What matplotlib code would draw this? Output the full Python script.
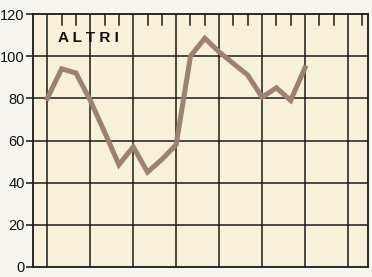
import matplotlib
matplotlib.use("Agg")
import matplotlib.pyplot as plt
import numpy as np

plt.rcParams['font.family'] = ['Liberation Sans', 'DejaVu Sans']

values = [80, 94, 92, 79, 64, 48.5, 57, 45, 51, 58, 100, 108.5, 102, 96.5, 91, 80.5, 85, 79, 94.5]
y_ticks = [0, 20, 40, 60, 80, 100, 120]
label = "A L T R I"

fig = plt.figure(figsize=(3.72, 2.77), dpi=100)
fig.patch.set_facecolor("#f6f5f0")
ax = fig.add_axes([33/372, 1-267/277, 335/372, (267-14)/277])
ax.set_facecolor("#f7f1d9")

x = np.arange(len(values))
ax.plot(x, values, color="#9e8170", lw=3.6, solid_joinstyle="miter", zorder=3)

ax.set_xlim(-1, 22.4)
ax.set_ylim(0, 120)
ax.set_yticks(y_ticks)
ax.set_yticklabels([str(v) for v in y_ticks], fontsize=10.5, color="#111111")
ax.set_xticks([])
for v in [20, 40, 60, 80, 100]:
    ax.axhline(v, color="#1a1a1a", lw=1.1, zorder=2)
for i in range(0, 23, 3):
    ax.axvline(i, color="#1a1a1a", lw=1.1, zorder=2)
for i in range(0, 23):
    if i % 3 != 0:
        ax.plot([i, i], [120, 115], color="#1a1a1a", lw=1.1, zorder=2, clip_on=False)
ax.tick_params(axis="y", length=5, width=1.1, pad=1, colors="#111111")
for s in ax.spines.values():
    s.set_color("#1a1a1a")
    s.set_linewidth(1.3)
ax.text(0.75, 108.5, label, fontsize=11, fontweight="bold", ha="left", va="center", color="#111111")

fig.savefig("out.png", dpi=100, facecolor=fig.get_facecolor())
